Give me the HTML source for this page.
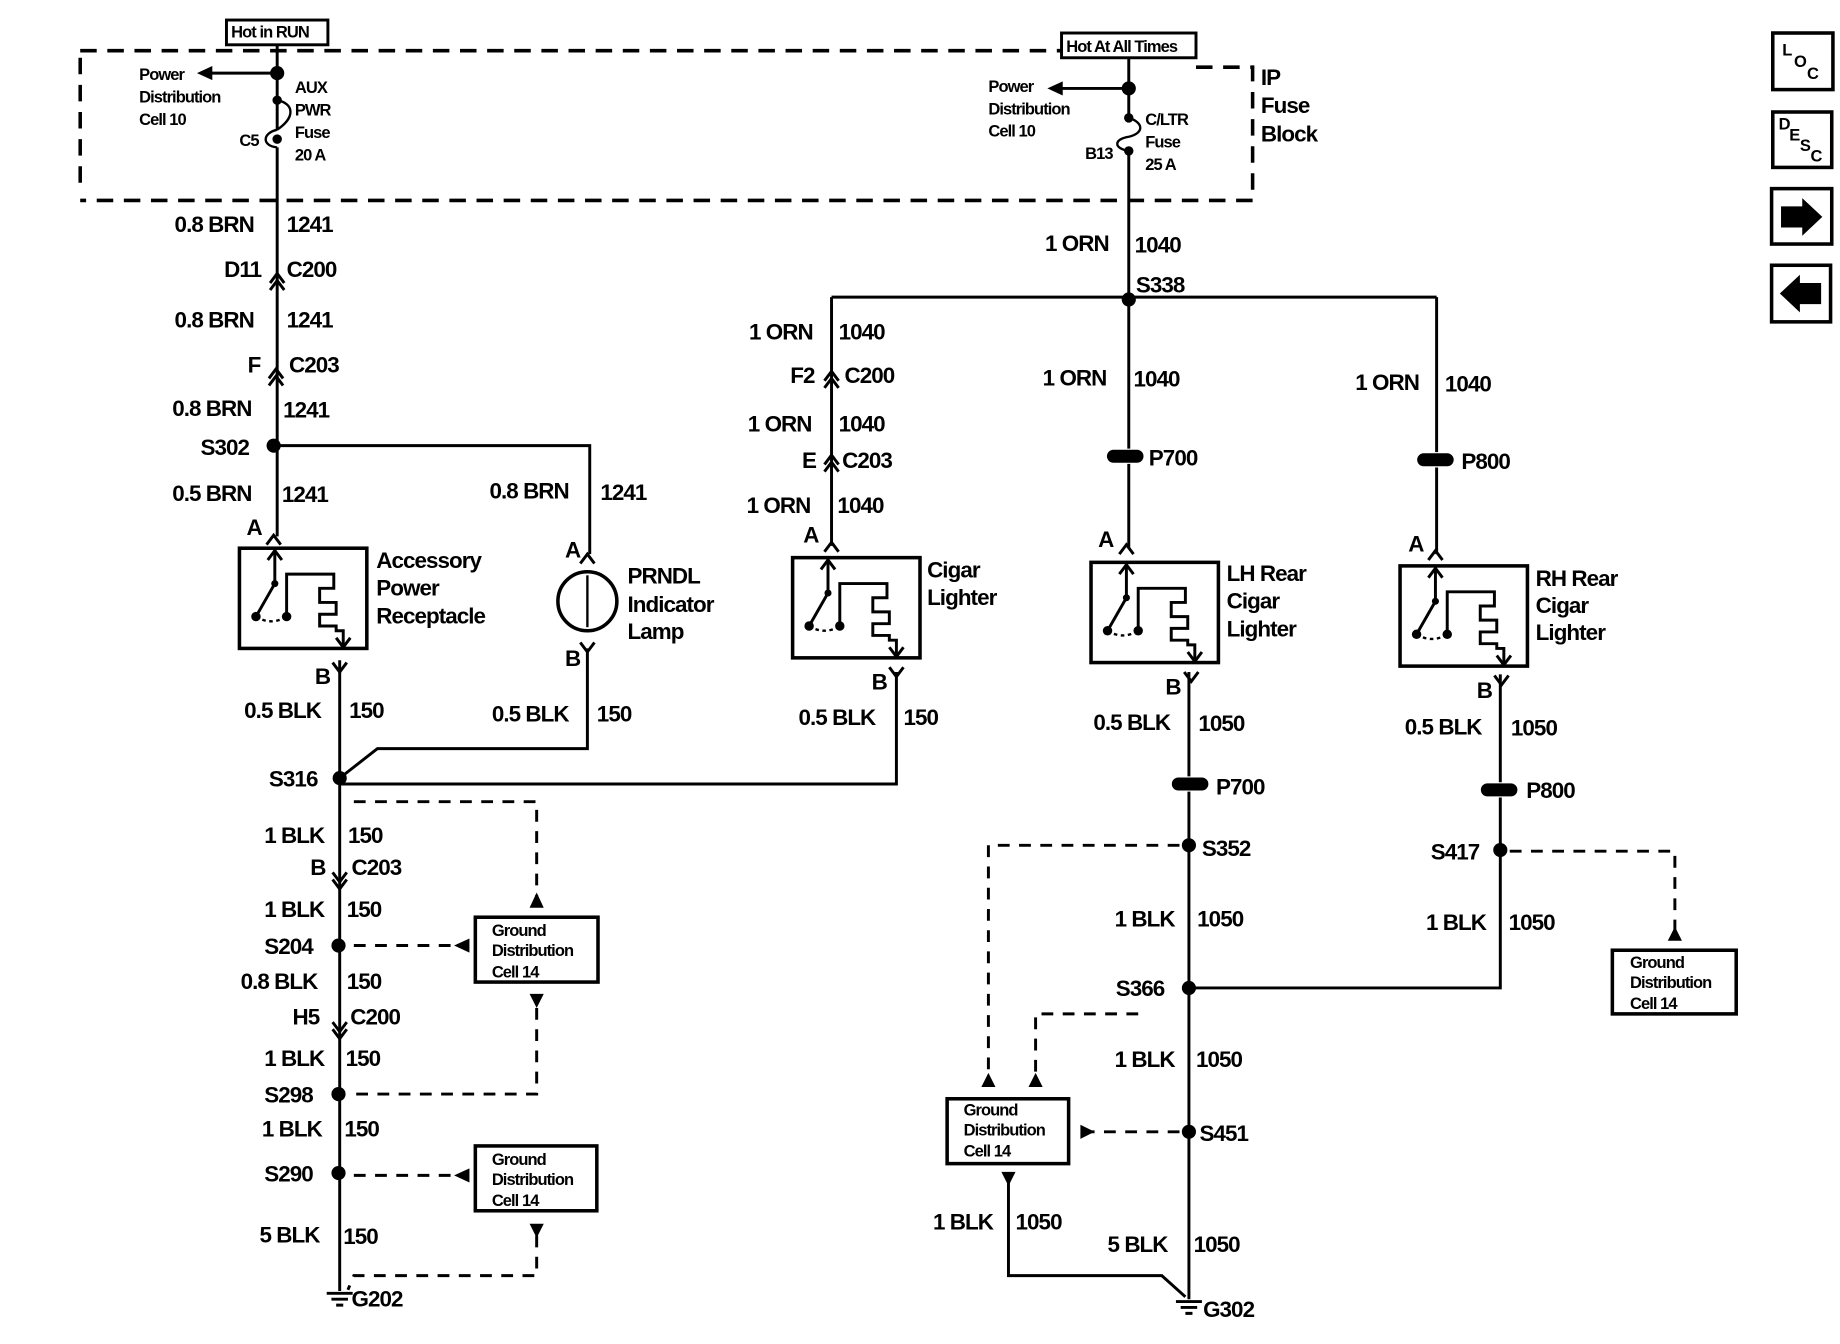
<!DOCTYPE html>
<html><head><meta charset="utf-8"><style>
html,body{margin:0;padding:0;background:#fff}
svg{display:block}
text{font-family:"Liberation Sans",sans-serif;font-weight:bold;fill:#000;letter-spacing:-0.8px}
.w{font-size:19px}
.s{font-size:14px}
.c{font-size:19px}
</style></head><body>
<svg width="1840" height="1344" viewBox="0 0 1560 1140" preserveAspectRatio="none" xmlns="http://www.w3.org/2000/svg">
<defs>
<g id="lt">
<rect x="0" y="0" width="108" height="85" fill="none" stroke="#000" stroke-width="3"/>
<path d="M30,0 V30 M30,30 L14,58" stroke="#000" stroke-width="2.5" fill="none"/>
<path d="M24,10 L30,2 L36,10" stroke="#000" stroke-width="2.5" fill="none"/>
<circle cx="30" cy="30" r="3"/><circle cx="14" cy="58" r="4"/><circle cx="40" cy="58" r="4"/>
<path d="M14,58 Q27,66 40,58" stroke="#000" stroke-width="2" stroke-dasharray="3,3" fill="none"/>
<path d="M40,58 V22 H80 V34 H68 V46 H82 V56 H68 V66 H82 V70 H88 V84" stroke="#000" stroke-width="2.5" fill="none"/>
<path d="M82,76 L88,84 L94,76" stroke="#000" stroke-width="2.5" fill="none"/>
</g>
<g id="dot"><circle r="6" fill="#000"/></g>
</defs>
<g stroke="#000" stroke-width="2.5" fill="none">
<!-- top dashed box -->
<path d="M68,43 H900 M1014,57 H1062 V170 H68 M68,155 V43" stroke-dasharray="14,9" stroke-width="3"/>
<rect x="192" y="17" width="86" height="21" stroke-width="2.5"/>
<rect x="900" y="28" width="114" height="21" stroke-width="2.5"/>
<!-- left main wire -->
<path d="M235,38 V110 M235,125 V455"/>
<path d="M235,62 H175"/>
<path d="M235,110 C250,100 250,88 235,85 M235,110 C222,113 222,124 235,125" stroke-width="2"/>
<!-- right top wire -->
<path d="M957,50 V100 M957,128 V465"/>
<path d="M957,75 H896"/>
<path d="M957,100 C970,104 970,113 957,116 C944,118 944,126 957,128" stroke-width="2"/>
<path d="M705,252 H1218 M705,252 V463 M1218,252 V470"/>
<!-- S302 to PRNDL -->
<path d="M232,378 H500 V470"/>
<circle cx="498" cy="510" r="25" stroke-width="3"/>
<path d="M498,488 V532" stroke-width="2"/>
<path d="M498,550 V635 H320 L288,660 M760,570 V665 H288"/>
<!-- lower left wire -->
<path d="M288,560 V1095"/>
<!-- right lower wires -->
<path d="M1008,570 V1102 M1272,572 V838 H1008"/>
<path d="M855,1000 V1082 H985 L1005,1100"/>
<!-- dashed grounds -->
<g stroke-dasharray="10,8">
<path d="M300,680 H455 V760"/>
<path d="M300,802 H385"/>
<path d="M455,855 V928 H295"/>
<path d="M300,997 H385"/>
<path d="M455,1048 V1082 H300 L295,1094"/>
<path d="M1000,717 H838 V910"/>
<path d="M965,860 H878 V910"/>
<path d="M1000,960 H925"/>
<path d="M1280,722 H1420 V790"/>
</g>
<!-- ground boxes -->
<rect x="403" y="778" width="104" height="55" stroke-width="3"/>
<rect x="403" y="972" width="103" height="55" stroke-width="3"/>
<rect x="803" y="932" width="103" height="55" stroke-width="3"/>
<rect x="1367" y="806" width="105" height="54" stroke-width="3"/>
<!-- nav -->
<rect x="1503" y="28" width="51" height="48" stroke-width="3"/>
<rect x="1503" y="95" width="50" height="47" stroke-width="3"/>
<rect x="1502" y="160" width="51" height="47" stroke-width="3"/>
<rect x="1502" y="225" width="50" height="48" stroke-width="3"/>
<!-- connector chevrons -->
<path d="M229,246 L235,238 L241,246 M229,240 L235,232 L241,240"/>
<path d="M228,327 L234,319 L240,327 M228,321 L234,313 L240,321"/>
<path d="M699,329 L705,321 L711,329 M699,323 L705,315 L711,323"/>
<path d="M699,400 L705,392 L711,400 M699,394 L705,386 L711,394"/>
<path d="M282,740 L288,748 L294,740 M282,746 L288,754 L294,746"/>
<path d="M282,867 L288,875 L294,867 M282,873 L288,881 L294,873"/>
<!-- A/B pins -->
<path d="M226,462 L232,454 L238,462 M492,478 L498,470 L504,478 M699,468 L705,460 L711,468 M949,470 L955,462 L961,470 M1211,475 L1217,467 L1223,475"/>
<path d="M282,562 L288,570 L294,562 M492,545 L498,553 L504,545 M754,566 L760,574 L766,566 M1004,570 L1010,578 L1016,570 M1267,573 L1273,581 L1279,573"/>
<!-- grounds -->
<path d="M277,1097 H299 M281,1102 H295 M285,1107 H291"/>
<path d="M997,1104 H1019 M1001,1109 H1015 M1005,1114 H1011"/>
</g>
<!-- arrows -->
<g fill="#000">
<polygon points="167,62 180,56 180,68"/>
<polygon points="888,75 901,69 901,81"/>
<polygon points="455,757 449,770 461,770"/>
<polygon points="385,802 398,796 398,808"/>
<polygon points="455,855 449,843 461,843"/>
<polygon points="385,997 398,991 398,1003"/>
<polygon points="455,1050 449,1038 461,1038"/>
<polygon points="838,910 832,922 844,922"/>
<polygon points="878,910 872,922 884,922"/>
<polygon points="928,960 916,954 916,966"/>
<polygon points="855,1006 849,994 861,994"/>
<polygon points="1420,786 1414,798 1426,798"/>
<polygon points="1510,175 1528,175 1528,168 1545,184 1528,200 1528,193 1510,193"/>
<polygon points="1544,240 1526,240 1526,233 1509,249 1526,265 1526,258 1544,258"/>
</g>
<use href="#dot" x="235" y="62"/><use href="#dot" x="957" y="75"/>
<circle cx="235" cy="85" r="4"/><circle cx="235" cy="118" r="4"/>
<circle cx="957" cy="100" r="4"/><circle cx="957" cy="128" r="4"/>
<use href="#dot" x="957" y="254"/><use href="#dot" x="232" y="378"/>
<use href="#dot" x="288" y="660"/><use href="#dot" x="287" y="802"/><use href="#dot" x="287" y="928"/><use href="#dot" x="287" y="995"/>
<use href="#dot" x="1008" y="717"/><use href="#dot" x="1008" y="838"/><use href="#dot" x="1008" y="960"/><use href="#dot" x="1272" y="721"/>
<!-- P700/P800 -->
<g fill="#000" stroke="#fff" stroke-width="1">
<rect x="938" y="381" width="32" height="12" rx="6"/>
<rect x="1201" y="384" width="32" height="12" rx="6"/>
<rect x="993" y="659" width="32" height="12" rx="6"/>
<rect x="1255" y="664" width="32" height="12" rx="6"/>
</g>
<use href="#lt" x="203" y="465"/>
<use href="#lt" x="672" y="473"/>
<use href="#lt" x="925" y="477"/>
<use href="#lt" x="1187" y="480"/>
<!-- text -->
<text class="s" x="196" y="32">Hot in RUN</text>
<text class="s" x="904" y="44">Hot At All Times</text>
<text class="s" x="118" y="68">Power</text><text class="s" x="118" y="87">Distribution</text><text class="s" x="118" y="106">Cell 10</text>
<text class="s" x="250" y="79">AUX</text><text class="s" x="250" y="98">PWR</text><text class="s" x="250" y="117">Fuse</text><text class="s" x="250" y="136">20 A</text>
<text class="s" x="203" y="124">C5</text>
<text class="s" x="838" y="78">Power</text><text class="s" x="838" y="97">Distribution</text><text class="s" x="838" y="116">Cell 10</text>
<text class="s" x="971" y="106">C/LTR</text><text class="s" x="971" y="125">Fuse</text><text class="s" x="971" y="144">25 A</text>
<text class="s" x="920" y="135">B13</text>
<text class="c" x="1069" y="72">IP</text><text class="c" x="1069" y="96">Fuse</text><text class="c" x="1069" y="120">Block</text>
<g class="w">
<text class="w" x="148" y="197">0.8 BRN</text><text class="w" x="243" y="197">1241</text>
<text class="w" x="190" y="235">D11</text><text class="w" x="243" y="235">C200</text>
<text class="w" x="148" y="278">0.8 BRN</text><text class="w" x="243" y="278">1241</text>
<text class="w" x="210" y="316">F</text><text class="w" x="245" y="316">C203</text>
<text class="w" x="146" y="353">0.8 BRN</text><text class="w" x="240" y="354">1241</text>
<text class="w" x="170" y="386">S302</text>
<text class="w" x="146" y="425">0.5 BRN</text><text class="w" x="239" y="426">1241</text>
<text class="w" x="209" y="454">A</text>
<text class="w" x="415" y="423">0.8 BRN</text><text class="w" x="509" y="424">1241</text>
<text class="w" x="479" y="473">A</text>
<text class="w" x="319" y="482">Accessory</text><text class="w" x="319" y="505">Power</text><text class="w" x="319" y="529">Receptacle</text>
<text class="w" x="532" y="495">PRNDL</text><text class="w" x="532" y="519">Indicator</text><text class="w" x="532" y="542">Lamp</text>
<text class="w" x="479" y="565">B</text>
<text class="w" x="267" y="580">B</text>
<text class="w" x="207" y="609">0.5 BLK</text><text class="w" x="296" y="609">150</text>
<text class="w" x="417" y="612">0.5 BLK</text><text class="w" x="506" y="612">150</text>
<text class="w" x="228" y="667">S316</text>
<text class="w" x="224" y="715">1 BLK</text><text class="w" x="295" y="715">150</text>
<text class="w" x="263" y="742">B</text><text class="w" x="298" y="742">C203</text>
<text class="w" x="224" y="778">1 BLK</text><text class="w" x="294" y="778">150</text>
<text class="w" x="224" y="809">S204</text>
<text class="w" x="204" y="839">0.8 BLK</text><text class="w" x="294" y="839">150</text>
<text class="w" x="248" y="869">H5</text><text class="w" x="297" y="869">C200</text>
<text class="w" x="224" y="904">1 BLK</text><text class="w" x="293" y="904">150</text>
<text class="w" x="224" y="935">S298</text>
<text class="w" x="222" y="964">1 BLK</text><text class="w" x="292" y="964">150</text>
<text class="w" x="224" y="1002">S290</text>
<text class="w" x="220" y="1054">5 BLK</text><text class="w" x="291" y="1055">150</text>
<text class="w" x="298" y="1108">G202</text>
<text class="w" x="886" y="213">1 ORN</text><text class="w" x="962" y="214">1040</text>
<text class="w" x="963" y="248">S338</text>
<text class="w" x="635" y="288">1 ORN</text><text class="w" x="711" y="288">1040</text>
<text class="w" x="670" y="325">F2</text><text class="w" x="716" y="325">C200</text>
<text class="w" x="634" y="366">1 ORN</text><text class="w" x="711" y="366">1040</text>
<text class="w" x="680" y="397">E</text><text class="w" x="714" y="397">C203</text>
<text class="w" x="633" y="435">1 ORN</text><text class="w" x="710" y="435">1040</text>
<text class="w" x="681" y="460">A</text>
<text class="w" x="786" y="490">Cigar</text><text class="w" x="786" y="513">Lighter</text>
<text class="w" x="739" y="585">B</text>
<text class="w" x="677" y="615">0.5 BLK</text><text class="w" x="766" y="615">150</text>
<text class="w" x="884" y="327">1 ORN</text><text class="w" x="961" y="328">1040</text>
<text class="w" x="974" y="395">P700</text>
<text class="w" x="1149" y="331">1 ORN</text><text class="w" x="1225" y="332">1040</text>
<text class="w" x="1239" y="398">P800</text>
<text class="w" x="931" y="464">A</text>
<text class="w" x="1194" y="468">A</text>
<text class="w" x="1040" y="493">LH Rear</text><text class="w" x="1040" y="516">Cigar</text><text class="w" x="1040" y="540">Lighter</text>
<text class="w" x="1302" y="497">RH Rear</text><text class="w" x="1302" y="520">Cigar</text><text class="w" x="1302" y="543">Lighter</text>
<text class="w" x="988" y="589">B</text>
<text class="w" x="1252" y="592">B</text>
<text class="w" x="927" y="619">0.5 BLK</text><text class="w" x="1016" y="620">1050</text>
<text class="w" x="1191" y="623">0.5 BLK</text><text class="w" x="1281" y="624">1050</text>
<text class="w" x="1031" y="674">P700</text>
<text class="w" x="1294" y="677">P800</text>
<text class="w" x="1019" y="726">S352</text>
<text class="w" x="1213" y="729">S417</text>
<text class="w" x="945" y="786">1 BLK</text><text class="w" x="1015" y="786">1050</text>
<text class="w" x="1209" y="789">1 BLK</text><text class="w" x="1279" y="789">1050</text>
<text class="w" x="946" y="845">S366</text>
<text class="w" x="945" y="905">1 BLK</text><text class="w" x="1014" y="905">1050</text>
<text class="w" x="1017" y="968">S451</text>
<text class="w" x="791" y="1043">1 BLK</text><text class="w" x="861" y="1043">1050</text>
<text class="w" x="939" y="1062">5 BLK</text><text class="w" x="1012" y="1062">1050</text>
<text class="w" x="1020" y="1117">G302</text>
</g>
<g class="s">
<text class="s" x="417" y="794">Ground</text><text class="s" x="417" y="811">Distribution</text><text class="s" x="417" y="829">Cell 14</text>
<text class="s" x="417" y="988">Ground</text><text class="s" x="417" y="1005">Distribution</text><text class="s" x="417" y="1023">Cell 14</text>
<text class="s" x="817" y="946">Ground</text><text class="s" x="817" y="963">Distribution</text><text class="s" x="817" y="981">Cell 14</text>
<text class="s" x="1382" y="821">Ground</text><text class="s" x="1382" y="838">Distribution</text><text class="s" x="1382" y="856">Cell 14</text>
</g>
<text class="s" x="1511" y="47">L</text><text class="s" x="1521" y="57">O</text><text class="s" x="1532" y="67">C</text>
<text class="s" x="1508" y="110">D</text><text class="s" x="1517" y="119">E</text><text class="s" x="1526" y="128">S</text><text class="s" x="1535" y="137">C</text>
</svg>
</body></html>
